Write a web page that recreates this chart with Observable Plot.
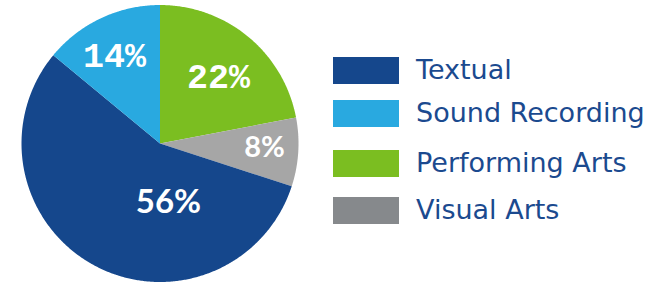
<!DOCTYPE html>
<html>
<head>
<meta charset="utf-8">
<script src="https://cdn.jsdelivr.net/npm/d3@7"></script>
<script src="https://cdn.jsdelivr.net/npm/@observablehq/plot@0.6"></script>
<style>
  html, body { margin: 0; padding: 0; background: #fff; }
  #wrap { position: relative; width: 668px; height: 284px; overflow: hidden; }
  #chart { position: absolute; left: 0; top: 0; }
  #legend { position: absolute; left: 333px; top: 0; font-family: "DejaVu Sans", sans-serif; }
  .item { position: absolute; left: 0; display: flex; align-items: flex-start; white-space: nowrap; }
  .sw { width: 66px; height: 27px; flex: none; }
  .lbl { margin-left: 17px; font-size: 27px; line-height: 25px; color: #1B4A8F; }
</style>
</head>
<body>
<div id="wrap">
  <div id="chart"></div>
  <div id="legend"></div>
</div>
<script>
// ---- data ----
const categories = ["Textual", "Sound Recording", "Performing Arts", "Visual Arts"];
const shares = [56, 14, 22, 8];
const pieOrder = ["Performing Arts", "Visual Arts", "Textual", "Sound Recording"]; // clockwise from 12 o'clock
const pieColors = ["#15478C", "#29A9E0", "#7BBE21", "#A6A6A6"];
const legendColors = ["#15478C", "#29A9E0", "#7BBE21", "#86898C"];

// ---- layout (not data) ----
const labelPlacement = {
  "Textual": {angle: 171.8, radius: 0.43, font: "Lato", size: 33, weight: "bold"},
  "Sound Recording": {angle: -27.4, radius: 0.715, font: "Liberation Mono", size: 35, weight: "bold"},
  "Performing Arts": {angle: 41.1, radius: 0.642, font: "Liberation Mono", size: 35, weight: "bold"},
  "Visual Arts": {angle: 92.2, radius: 0.755, font: "Lato", size: 29, weight: "bold"}
};
const legendTops = [56.7, 100, 150, 196.7];

const shareOf = Object.fromEntries(categories.map((c, i) => [c, shares[i]]));
const colorOf = Object.fromEntries(categories.map((c, i) => [c, pieColors[i]]));

const arcs = d3.pie().sort(null).value(d => shareOf[d])(pieOrder);

// polygon points for each slice (unit circle, y up)
const pts = [];
for (const a of arcs) {
  const cat = a.data;
  pts.push({cat, u: 0, v: 0});
  const n = Math.max(2, Math.ceil((a.endAngle - a.startAngle) / (Math.PI / 360)));
  for (let k = 0; k <= n; k++) {
    const t = a.startAngle + (a.endAngle - a.startAngle) * k / n;
    pts.push({cat, u: Math.sin(t), v: Math.cos(t)});
  }
  pts.push({cat, u: 0, v: 0});
}

const labels = categories.map(c => {
  const p = labelPlacement[c];
  const t = p.angle * Math.PI / 180;
  return {cat: c, text: shareOf[c] + "%", u: p.radius * Math.sin(t), v: p.radius * Math.cos(t)};
});

const textMarks = categories.map(c => {
  const p = labelPlacement[c];
  return Plot.text(labels.filter(d => d.cat === c), {
    x: "u", y: "v", text: "text", fill: "white",
    fontFamily: p.font, fontSize: p.size, fontWeight: p.weight,
    textAnchor: "middle", lineAnchor: "middle"
  });
});

const plot = Plot.plot({
  width: 320,
  height: 284,
  margin: 0,
  axis: null,
  x: {domain: [-1, 1], range: [21, 298]},
  y: {domain: [-1, 1], range: [281.5, 4.5]},
  color: {domain: categories, range: pieColors},
  style: {background: "transparent", overflow: "visible"},
  marks: [
    Plot.line(pts, {x: "u", y: "v", z: "cat", fill: "cat", stroke: null, curve: "linear"}),
    ...textMarks
  ]
});
document.getElementById("chart").appendChild(plot);

// legend
const legend = document.getElementById("legend");
categories.forEach((c, i) => {
  const item = document.createElement("div");
  item.className = "item";
  item.style.top = legendTops[i] + "px";
  const sw = document.createElement("div");
  sw.className = "sw";
  sw.style.background = legendColors[i];
  const lbl = document.createElement("div");
  lbl.className = "lbl";
  lbl.textContent = c;
  item.appendChild(sw);
  item.appendChild(lbl);
  legend.appendChild(item);
});
</script>
</body>
</html>
